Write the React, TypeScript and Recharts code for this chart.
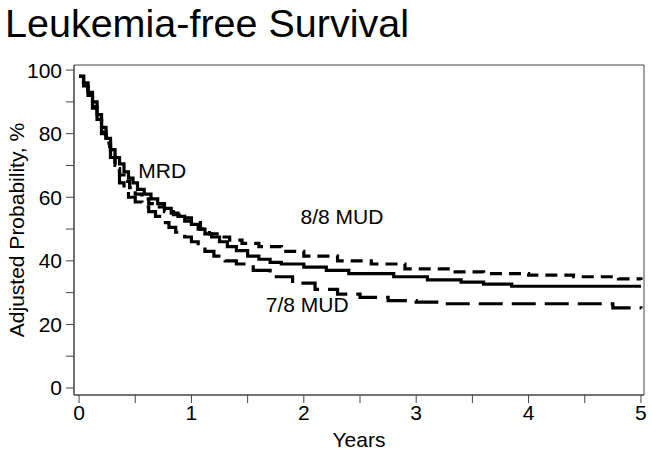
import React from 'react';
import {
  Line,
  LineChart,
  ReferenceArea,
  ReferenceDot,
  XAxis,
  YAxis
} from 'recharts';

const FONT = '"Liberation Sans", Arial, sans-serif';

// adjusted probability (%) by years after transplant
const mrdYears = [0, 0.04, 0.08, 0.12, 0.16, 0.2, 0.24, 0.28, 0.32, 0.36, 0.4, 0.44, 0.48, 0.52, 0.58, 0.64, 0.7, 0.76, 0.82, 0.88, 0.94, 1.0, 1.06, 1.12, 1.18, 1.25, 1.32, 1.4, 1.5, 1.6, 1.7, 1.8, 2.0, 2.2, 2.4, 2.8, 3.1, 3.4, 3.6, 3.85, 5.0];
const mrdValues = [98, 96, 93, 90, 86, 82, 78.5, 75, 72.5, 70.5, 68, 66, 64.5, 62.5, 61, 59.5, 58, 56.5, 55, 54, 52.5, 51.5, 50, 48.5, 47.5, 46, 44.5, 43.2, 41.5, 40.5, 39.5, 39, 38, 37, 36, 35, 34, 33.3, 32.7, 32, 32];

const mud88Years = [0, 0.04, 0.08, 0.12, 0.16, 0.2, 0.24, 0.28, 0.32, 0.36, 0.4, 0.45, 0.5, 0.56, 0.62, 0.68, 0.76, 0.84, 0.92, 1.0, 1.08, 1.16, 1.25, 1.34, 1.45, 1.6, 1.8, 2.0, 2.3, 2.6, 2.9, 3.3, 3.6, 4.0, 4.4, 4.8, 5.0];
const mud88Values = [98, 95.5, 92, 88.5, 84.5, 80.5, 77, 73, 70, 67, 65, 63, 61, 59.5, 58, 57, 55.5, 54.5, 53.5, 52, 50, 48.5, 47.5, 46.5, 45.5, 44.5, 43, 41.5, 40, 39, 37.5, 36.5, 36, 35.5, 35, 34.3, 34];

const mud78Years = [0, 0.04, 0.08, 0.12, 0.16, 0.2, 0.24, 0.28, 0.32, 0.36, 0.4, 0.44, 0.5, 0.56, 0.62, 0.68, 0.74, 0.8, 0.86, 0.94, 1.0, 1.06, 1.12, 1.2, 1.3, 1.4, 1.55, 1.7, 1.9, 2.1, 2.3, 2.5, 2.75, 3.0, 3.2, 4.75, 5.0];
const mud78Values = [98, 95, 91.5, 88, 84, 80, 76, 72.5, 69, 64.5, 62, 60, 58.5, 57, 55.5, 54, 52, 50.5, 49, 47.5, 46, 44.5, 43, 41.5, 40, 39, 37, 35, 33, 31, 29.5, 28.5, 27.5, 27, 26.5, 25.2, 25];

const xTicks = [0, 0.5, 1, 1.5, 2, 2.5, 3, 3.5, 4, 4.5, 5];
const yTicks = [0, 10, 20, 30, 40, 50, 60, 70, 80, 90, 100];

const toPoints = (years: number[], values: number[]) =>
  years.map((t, i) => ({ t, p: values[i] }));

const mrd = toPoints(mrdYears, mrdValues);
const mud88 = toPoints(mud88Years, mud88Values);
const mud78 = toPoints(mud78Years, mud78Values);

const X_DOMAIN: [number, number] = [-0.045, 5.027];
const Y_DOMAIN: [number, number] = [-2.2, 101.6];

const labelStyle = { fontSize: 21, fill: '#000', fontFamily: FONT };

export default function App() {
  return (
    <div style={{ position: 'absolute', left: 0, top: 0, width: 652, height: 452, background: '#fff' }}>
      <div
        style={{
          position: 'absolute',
          left: 5,
          top: 4,
          fontFamily: FONT,
          fontSize: 39.5,
          lineHeight: '38px',
          color: '#000'
        }}
      >
        Leukemia-free Survival
      </div>
      <LineChart width={652} height={452} margin={{ top: 65, right: 8, bottom: 0, left: 0 }}>
        <XAxis
          dataKey="t"
          type="number"
          domain={X_DOMAIN}
          allowDataOverflow
          ticks={xTicks}
          tickFormatter={(v: number) => (Number.isInteger(v) ? String(v) : '')}
          height={57}
          tickSize={8}
          tickMargin={2}
          stroke="#444"
          tick={{ fill: '#000', fontSize: 21, fontFamily: FONT }}
          label={{ value: 'Years', position: 'insideBottom', offset: 5, fill: '#000', fontSize: 21, fontFamily: FONT }}
        />
        <YAxis
          type="number"
          domain={Y_DOMAIN}
          allowDataOverflow
          ticks={yTicks}
          tickFormatter={(v: number) => (v % 20 === 0 ? String(v) : '')}
          width={74}
          tickSize={8}
          tickMargin={4}
          stroke="#444"
          tick={{ fill: '#000', fontSize: 21, fontFamily: FONT }}
          label={{
            value: 'Adjusted Probability, %',
            angle: -90,
            position: 'insideLeft',
            offset: 17,
            style: { textAnchor: 'middle' },
            fill: '#000',
            fontSize: 21,
            fontFamily: FONT
          }}
        />
        <ReferenceArea x1={X_DOMAIN[0]} x2={X_DOMAIN[1]} y1={Y_DOMAIN[0]} y2={Y_DOMAIN[1]} fill="none" stroke="#444" strokeWidth={1} />
        <Line data={mud78} dataKey="p" type="stepAfter" stroke="#000" strokeWidth={3.2} strokeDasharray="24 9" dot={false} isAnimationActive={false} />
        <Line data={mud88} dataKey="p" type="stepAfter" stroke="#000" strokeWidth={3.2} strokeDasharray="12 7" dot={false} isAnimationActive={false} />
        <Line data={mrd} dataKey="p" type="stepAfter" stroke="#000" strokeWidth={3.2} dot={false} isAnimationActive={false} />
        <ReferenceDot x={0.74} y={68.5} r={1} fill="none" stroke="none" label={{ value: 'MRD', position: 'center', ...labelStyle }} />
        <ReferenceDot x={2.34} y={53.8} r={1} fill="none" stroke="none" label={{ value: '8/8 MUD', position: 'center', ...labelStyle }} />
        <ReferenceDot x={2.03} y={26.1} r={1} fill="none" stroke="none" label={{ value: '7/8 MUD', position: 'center', ...labelStyle }} />
      </LineChart>
    </div>
  );
}
